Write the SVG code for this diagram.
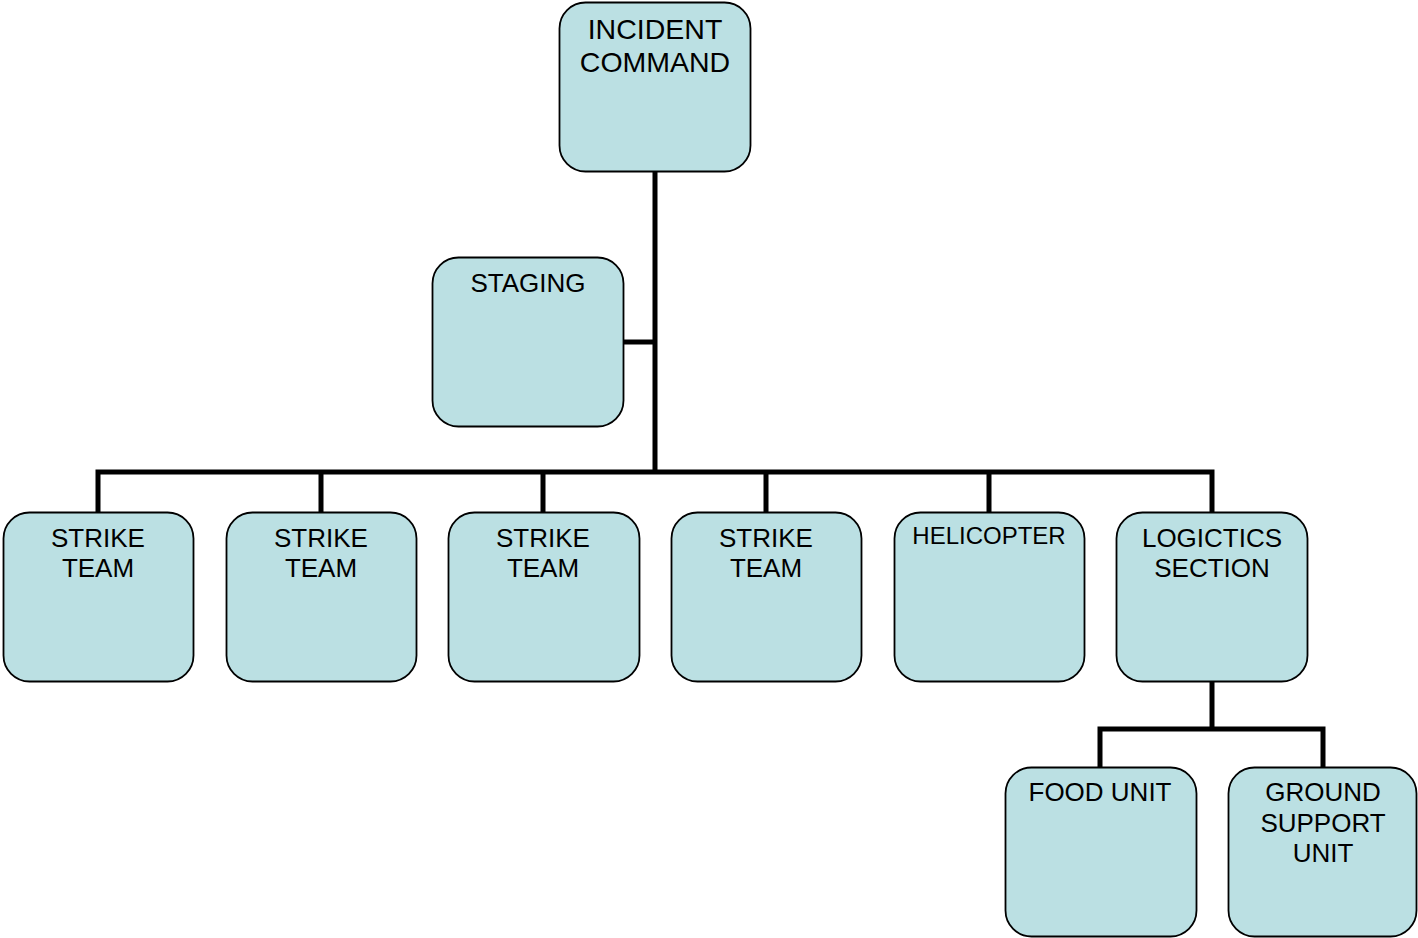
<svg xmlns="http://www.w3.org/2000/svg" width="1418" height="938" viewBox="0 0 1418 938">
<style>
.box{fill:#BBE0E3;stroke:#000;stroke-width:1.8}
.t{font-family:"Liberation Sans",Arial,sans-serif;font-size:26px;text-anchor:middle;fill:#000}
.c{fill:none;stroke:#000;stroke-width:5;stroke-linecap:butt;stroke-linejoin:miter}
</style>
<rect width="1418" height="938" fill="#fff"/>
<g id="connectors">
<path class="c" d="M655 172V472"/>
<path class="c" d="M623 342H655"/>
<path class="c" d="M98 512V472H1212V512"/>
<path class="c" d="M321 472V512M543 472V512M766 472V512M989 472V512"/>
<path class="c" d="M1212 682V729M1100 767V729H1323V767"/>
</g>
<g id="incident-command">
<rect class="box" x="559.5" y="2.5" width="191" height="169" rx="26"/>
<text class="t" style="font-size:28.5px" x="655" y="39">INCIDENT</text>
<text class="t" style="font-size:28.5px" x="655" y="72">COMMAND</text>
</g>
<g id="staging">
<rect class="box" x="432.5" y="257.5" width="191" height="169" rx="26"/>
<text class="t" x="528" y="292">STAGING</text>
</g>
<g id="strike-team-1">
<rect class="box" x="3.5" y="512.5" width="190" height="169" rx="26"/>
<text class="t" x="98" y="547">STRIKE</text>
<text class="t" x="98" y="577">TEAM</text>
</g>
<g id="strike-team-2">
<rect class="box" x="226.5" y="512.5" width="190" height="169" rx="26"/>
<text class="t" x="321" y="547">STRIKE</text>
<text class="t" x="321" y="577">TEAM</text>
</g>
<g id="strike-team-3">
<rect class="box" x="448.5" y="512.5" width="191" height="169" rx="26"/>
<text class="t" x="543" y="547">STRIKE</text>
<text class="t" x="543" y="577">TEAM</text>
</g>
<g id="strike-team-4">
<rect class="box" x="671.5" y="512.5" width="190" height="169" rx="26"/>
<text class="t" x="766" y="547">STRIKE</text>
<text class="t" x="766" y="577">TEAM</text>
</g>
<g id="helicopter">
<rect class="box" x="894.5" y="512.5" width="190" height="169" rx="26"/>
<text class="t" style="font-size:24px" x="989" y="544">HELICOPTER</text>
</g>
<g id="logistics-section">
<rect class="box" x="1116.5" y="512.5" width="191" height="169" rx="26"/>
<text class="t" x="1212" y="547">LOGICTICS</text>
<text class="t" x="1212" y="577">SECTION</text>
</g>
<g id="food-unit">
<rect class="box" x="1005.5" y="767.5" width="191" height="169" rx="26"/>
<text class="t" x="1100" y="801">FOOD UNIT</text>
</g>
<g id="ground-support-unit">
<rect class="box" x="1228.5" y="767.5" width="188" height="169" rx="26"/>
<text class="t" x="1323" y="801">GROUND</text>
<text class="t" x="1323" y="832">SUPPORT</text>
<text class="t" x="1323" y="862">UNIT</text>
</g>
</svg>
